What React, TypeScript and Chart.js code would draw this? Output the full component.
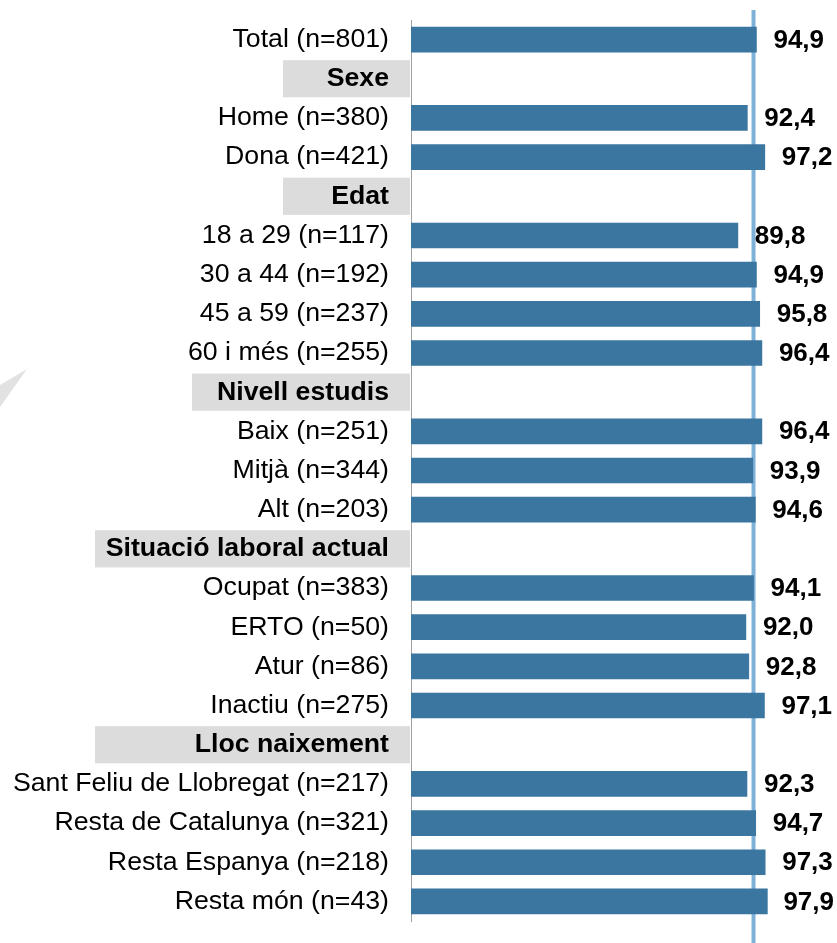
import React, { useEffect, useRef } from "react";
import { Chart, registerables } from "chart.js";

Chart.register(...registerables);

const CATEGORIES: string[] = [
  "Total (n=801)",
  "Sexe",
  "Home (n=380)",
  "Dona (n=421)",
  "Edat",
  "18 a 29 (n=117)",
  "30 a 44 (n=192)",
  "45 a 59 (n=237)",
  "60 i més (n=255)",
  "Nivell estudis",
  "Baix (n=251)",
  "Mitjà (n=344)",
  "Alt (n=203)",
  "Situació laboral actual",
  "Ocupat (n=383)",
  "ERTO (n=50)",
  "Atur (n=86)",
  "Inactiu (n=275)",
  "Lloc naixement",
  "Sant Feliu de Llobregat (n=217)",
  "Resta de Catalunya (n=321)",
  "Resta Espanya (n=218)",
  "Resta món (n=43)",
];

const HEADERS: string[] = ["Sexe", "Edat", "Nivell estudis", "Situació laboral actual", "Lloc naixement"];

const VALUES: (number | null)[] = [
  94.9, null, 92.4, 97.2, null, 89.8, 94.9, 95.8, 96.4, null, 96.4, 93.9, 94.6, null, 94.1, 92.0, 92.8, 97.1,
  null, 92.3, 94.7, 97.3, 97.9,
];

const REFERENCE_LINE: number[] = [94.1];

// style constants
const FONT = "'Liberation Sans', Arial, sans-serif";
const BAR_COLOR = "#3a76a0";
const REF_COLOR = "#7db1d8";
const HEADER_BG = "#dcdcdc";
const HEADER_BOX_LEFT: Record<string, number> = {
  Sexe: 283,
  Edat: 283,
  "Nivell estudis": 192,
  "Situació laboral actual": 95,
  "Lloc naixement": 95,
};

const fmt = (v: number) => v.toFixed(1).replace(".", ",");

const decorPlugin = {
  id: "decor",
  beforeDraw(chart: any) {
    const ctx = chart.ctx;
    const y = chart.scales.y;
    const area = chart.chartArea;
    ctx.save();
    // watermark triangle
    ctx.fillStyle = "#e2e2e2";
    ctx.beginPath();
    ctx.moveTo(0, 385);
    ctx.lineTo(27, 369);
    ctx.lineTo(0, 407);
    ctx.closePath();
    ctx.fill();
    // header boxes
    const band = (area.bottom - area.top) / CATEGORIES.length;
    CATEGORIES.forEach((c, i) => {
      if (!HEADERS.includes(c)) return;
      const cy = y.getPixelForValue(i);
      const left = HEADER_BOX_LEFT[c] ?? 95;
      ctx.fillStyle = HEADER_BG;
      ctx.fillRect(left, cy - band / 2 + 1, area.left - 1 - left, band - 2);
    });
    ctx.restore();
  },
  beforeDatasetsDraw(chart: any) {
    const ctx = chart.ctx;
    const x = chart.scales.x;
    ctx.save();
    ctx.strokeStyle = REF_COLOR;
    ctx.lineWidth = 4;
    REFERENCE_LINE.forEach((v) => {
      const px = x.getPixelForValue(v);
      ctx.beginPath();
      ctx.moveTo(px, 10);
      ctx.lineTo(px, chart.height);
      ctx.stroke();
    });
    ctx.restore();
  },
  afterDatasetsDraw(chart: any) {
    const ctx = chart.ctx;
    const meta = chart.getDatasetMeta(0);
    ctx.save();
    ctx.font = `bold 26px ${FONT}`;
    ctx.fillStyle = "#000";
    ctx.textAlign = "left";
    ctx.textBaseline = "middle";
    meta.data.forEach((el: any, i: number) => {
      const v = VALUES[i];
      if (v == null) return;
      const txt = fmt(v);
      const w = ctx.measureText(txt).width;
      const tx = Math.min(el.x + 17, chart.width - 3 - w);
      ctx.fillText(txt, tx, el.y + 1);
    });
    ctx.restore();
  },
};

export default function App() {
  const ref = useRef<HTMLCanvasElement | null>(null);
  useEffect(() => {
    if (!ref.current) return;
    const chart = new Chart(ref.current, {
      type: "bar",
      data: {
        labels: CATEGORIES,
        datasets: [
          {
            data: VALUES as any,
            backgroundColor: BAR_COLOR,
            barThickness: 25,
          },
        ],
      },
      options: {
        indexAxis: "y",
        animation: false,
        responsive: true,
        maintainAspectRatio: false,
        layout: { padding: { left: 0, right: 62, top: 20, bottom: 22 } },
        plugins: { legend: { display: false }, tooltip: { enabled: false } },
        scales: {
          x: { display: false, min: 0, max: 100 },
          y: {
            grid: { display: false, drawTicks: false },
            border: { display: true, color: "#a0a0a0", width: 1 },
            afterFit: (scale: any) => {
              scale.width = 411;
              scale.paddingTop = 0;
              scale.paddingBottom = 0;
            },
            ticks: {
              padding: 22,
              color: "#000",
              autoSkip: false,
              font: (ctx: any) => {
                const lbl = CATEGORIES[ctx.index];
                return {
                  family: FONT,
                  size: 26.7,
                  weight: HEADERS.includes(lbl) ? "bold" : "normal",
                } as any;
              },
            },
          },
        },
      },
      plugins: [decorPlugin],
    });
    return () => chart.destroy();
  }, []);
  return (
    <div style={{ position: "fixed", left: 0, top: 0, width: 837, height: 943, background: "#fff" }}>
      <canvas ref={ref} />
    </div>
  );
}
